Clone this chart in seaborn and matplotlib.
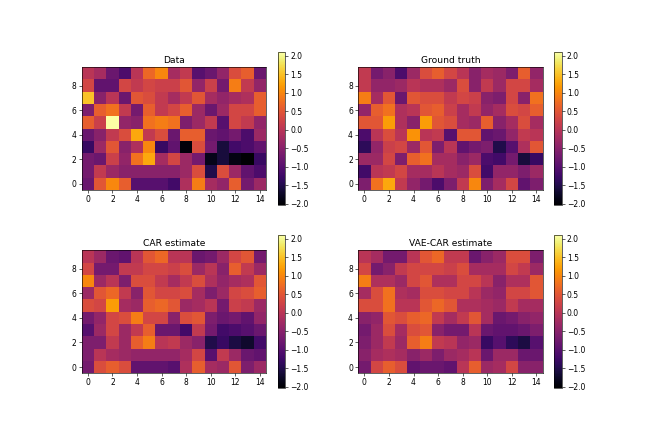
import numpy as np
import matplotlib
matplotlib.use("Agg")
import matplotlib.pyplot as plt
import matplotlib.ticker as mticker
import seaborn as sns

# Rows listed top (y=9) to bottom (y=0), 15 columns (x=0..14)
data_vals = [
    [0.0, -0.2, -0.8, -1.1, 0.0, 0.7, 1.0, -0.2, 0.1, -1.0, -0.8, -0.4, 0.4, 0.6, -0.8],
    [0.3, -0.9, -0.9, 0.3, 0.1, 0.3, 0.2, 0.2, 0.5, -0.4, 0.2, -0.7, 0.9, 0.1, -0.4],
    [1.5, -0.5, 0.0, -0.8, 0.5, 0.4, 0.1, -0.2, 0.1, 0.5, -0.2, -0.4, -0.2, -0.1, 0.6],
    [-0.6, 0.6, 0.8, 0.1, -0.7, 0.6, 0.1, 0.3, 0.6, -0.3, -0.8, -0.3, 0.3, 0.3, 0.6],
    [0.6, 0.2, 2.09, -0.4, -0.5, 0.8, 0.9, 0.8, -0.6, -0.3, 0.1, -1.0, 0.3, 0.1, -0.4],
    [-0.8, -0.5, 0.1, 0.4, 1.3, 0.1, 0.4, -0.8, 0.6, 0.6, -0.8, -0.9, -0.7, -1.1, -0.3],
    [-1.3, -0.3, 0.5, -0.5, -0.1, 1.0, -1.3, -0.9, -1.95, 0.4, -0.7, -1.6, -1.2, -1.1, -0.9],
    [-0.7, -0.8, 0.2, -0.4, 0.8, 1.3, -0.2, 0.3, -0.3, -0.7, -1.85, -1.6, -1.9, -2.03, -1.3],
    [-0.7, 0.1, -0.3, -0.5, -0.5, -0.5, -0.5, -0.5, -0.3, 0.4, -1.5, 0.4, -0.3, -0.9, -1.1],
    [-0.8, 0.5, 1.0, 0.6, -1.0, -1.0, -1.0, -1.2, -0.1, 0.9, -0.2, -0.4, 0.6, -0.7, -0.3],
]

truth_vals = [
    [0.1, -0.7, -0.5, -1.1, -0.3, 0.4, 0.6, 0.3, 0.0, -0.5, -0.2, -0.3, -0.6, 0.6, -0.4],
    [0.1, -0.4, -0.4, -0.3, 0.0, -0.1, -0.1, -0.3, 0.4, -0.5, 0.1, -0.3, 0.3, 0.3, -0.2],
    [0.9, -0.2, 0.5, -0.8, 0.5, 0.4, 0.4, 0.1, 0.3, 0.2, -0.5, -0.6, 0.3, -0.5, 0.8],
    [-0.4, 0.6, 0.8, -0.1, 0.0, 0.5, 0.6, 0.2, -0.2, 0.1, -0.4, -0.2, 0.4, 0.3, 0.6],
    [0.5, 0.5, 1.2, -0.1, -0.5, 1.2, 0.5, 0.4, -0.2, -0.3, 0.6, -0.5, -0.2, 0.4, -0.2],
    [-1.1, 0.0, 0.4, 0.0, 1.1, 0.0, 0.1, -1.0, 0.5, 0.5, -0.9, -0.8, -0.4, 0.1, 0.0],
    [-1.4, -0.4, 0.2, 0.3, -0.3, 0.5, -0.6, 0.0, -0.9, -0.7, -0.6, -1.5, -1.0, -0.1, 0.5],
    [-0.3, -0.3, 0.3, -0.6, 0.6, 0.8, -0.2, -0.2, -0.5, -0.3, -1.1, -1.2, -0.7, -1.6, -1.3],
    [-1.2, 0.0, 0.1, 0.3, -0.2, -0.2, 0.0, -0.2, -0.3, 0.4, -1.2, -0.4, -0.4, -0.6, -0.3],
    [-0.6, 0.8, 1.3, 0.1, -0.4, -0.7, -1.1, -0.6, 0.1, 1.0, -0.6, -0.2, 0.3, -0.9, -0.6],
]

car_vals = [
    [0.0, -0.3, -0.8, -0.9, 0.0, 0.5, 0.7, 0.0, 0.0, -0.8, -0.7, -0.3, 0.3, 0.5, -0.7],
    [0.3, -0.7, -0.7, 0.1, 0.1, 0.3, 0.3, 0.2, 0.4, -0.3, 0.0, -0.5, 0.6, 0.1, -0.3],
    [1.0, -0.3, 0.0, -0.6, 0.4, 0.4, 0.1, -0.2, 0.1, 0.4, -0.1, -0.4, -0.2, -0.1, 0.5],
    [-0.3, 0.5, 0.7, 0.1, -0.5, 0.5, 0.3, 0.3, 0.4, -0.2, -0.6, -0.3, 0.3, 0.4, 0.6],
    [0.4, 0.3, 1.2, -0.2, -0.3, 0.6, 0.7, 0.5, -0.3, -0.2, 0.0, -0.7, 0.2, 0.1, -0.3],
    [-0.7, -0.4, 0.3, 0.4, 0.9, 0.3, 0.3, -0.5, 0.4, 0.5, -0.6, -0.8, -0.7, -0.9, -0.4],
    [-1.0, -0.3, 0.3, -0.3, 0.1, 0.6, -0.8, -0.8, -1.2, 0.1, -0.7, -1.2, -1.1, -1.0, -0.8],
    [-0.6, -0.6, 0.1, -0.3, 0.6, 0.9, 0.0, 0.1, -0.3, -0.5, -1.5, -1.3, -1.55, -1.7, -1.2],
    [-0.6, 0.0, -0.2, -0.3, -0.4, -0.4, -0.4, -0.4, -0.2, 0.3, -1.0, 0.1, -0.3, -0.8, -0.9],
    [-0.7, 0.4, 0.6, 0.4, -0.9, -0.9, -0.9, -1.0, -0.1, 0.6, -0.2, -0.3, 0.5, -0.6, -0.3],
]

vae_vals = [
    [0.0, -0.2, -0.7, -0.7, 0.0, 0.5, 0.7, 0.1, 0.1, -0.8, -0.5, -0.3, 0.4, 0.4, -0.6],
    [0.3, -0.7, -0.5, 0.1, 0.3, 0.3, 0.3, 0.2, 0.4, -0.2, -0.2, -0.2, 0.3, 0.1, -0.3],
    [0.9, -0.1, -0.1, -0.3, 0.3, 0.5, -0.1, -0.1, 0.3, 0.3, 0.0, -0.5, -0.1, -0.1, 0.5],
    [-0.2, 0.4, 0.8, -0.1, -0.2, 0.4, 0.4, 0.3, 0.3, 0.0, -0.3, -0.4, 0.3, 0.3, 0.5],
    [0.4, 0.4, 0.8, 0.0, 0.0, 0.5, 0.7, 0.5, -0.1, -0.1, -0.2, -0.3, 0.1, -0.2, -0.2],
    [-0.5, -0.4, 0.5, 0.4, 0.6, 0.7, 0.1, -0.2, 0.1, 0.5, -0.2, -0.8, -0.7, -0.5, -0.4],
    [-0.7, -0.3, 0.4, -0.2, 0.4, 0.5, -0.5, -0.7, -0.7, 0.0, -0.8, -0.9, -0.9, -0.8, -0.6],
    [-0.6, -0.3, 0.1, -0.3, 0.6, 0.9, 0.1, 0.0, -0.4, -0.3, -1.3, -1.0, -1.4, -1.55, -1.0],
    [-0.5, -0.2, -0.1, -0.2, -0.5, -0.3, -0.6, -0.3, -0.2, 0.0, -0.8, -0.3, -0.3, -0.8, -0.8],
    [-0.7, 0.3, 0.6, 0.4, -0.9, -0.8, -0.8, -0.9, 0.0, 0.6, -0.3, -0.2, 0.3, -0.5, -0.5],
]

titles = ["Data", "Ground truth", "CAR estimate", "VAE-CAR estimate"]
x_ticks = [0, 2, 4, 6, 8, 10, 12, 14]
y_ticks = [0, 2, 4, 6, 8]

VMIN, VMAX = -2.03, 2.09
NROWS = 10
DPI = 54.5

fig, axes = plt.subplots(2, 2, figsize=(654 / DPI, 436 / DPI), dpi=DPI)
for ax, vals, title in zip(axes.flat, [data_vals, truth_vals, car_vals, vae_vals], titles):
    arr = np.array(vals)
    sns.heatmap(arr, ax=ax, cmap="inferno", vmin=VMIN, vmax=VMAX, square=True,
                cbar=True, xticklabels=False, yticklabels=False,
                cbar_kws={"ticks": mticker.MultipleLocator(0.5)})
    ax.set_xticks([t + 0.5 for t in x_ticks])
    ax.set_xticklabels([str(t) for t in x_ticks], rotation=0)
    ax.set_yticks([NROWS - 1 - t + 0.5 for t in y_ticks])
    ax.set_yticklabels([str(t) for t in y_ticks], rotation=0)
    ax.tick_params(length=3.5, width=0.8, labelsize=10)
    for sp in ax.spines.values():
        sp.set_visible(True)
        sp.set_linewidth(0.8)
        sp.set_color("black")
    ax.set_title(title, fontsize=12)
    cb = ax.collections[0].colorbar
    cb.outline.set_visible(True)
    cb.outline.set_linewidth(0.8)
    cb.outline.set_edgecolor("black")
    cb.ax.yaxis.set_major_formatter(mticker.FormatStrFormatter("%.1f"))
    cb.ax.yaxis.set_major_formatter(mticker.ScalarFormatter())
    cb.ax.tick_params(length=3.5, width=0.8, labelsize=10)

fig.savefig("out.png", dpi=DPI)
